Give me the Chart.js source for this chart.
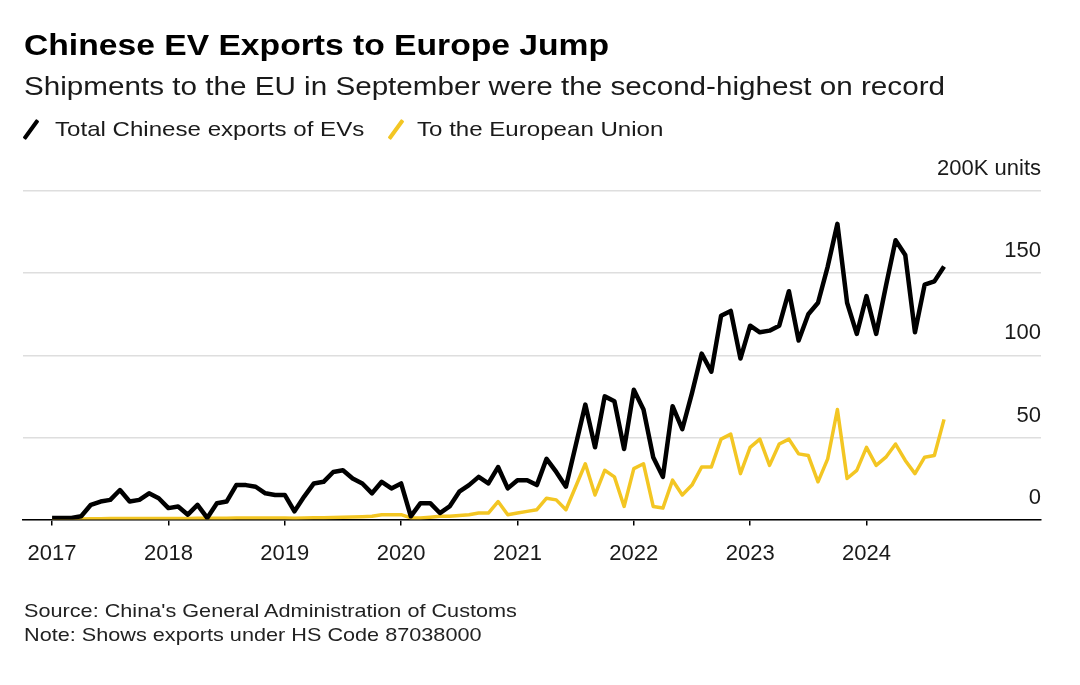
<!DOCTYPE html>
<html>
<head>
<meta charset="utf-8">
<script src="https://cdn.jsdelivr.net/npm/chart.js@4"></script>
<style>
  body { margin: 0; background: #fff; width: 1080px; height: 685px; overflow: hidden; position: relative; font-family: "Liberation Sans", Arial, sans-serif; }
  canvas { position: absolute; left: 0; top: 0; }
  .txt { position: absolute; left: 24px; line-height: 1; white-space: nowrap; transform-origin: left top; color: #111; }
  #title { top: 31px; font-size: 29px; font-weight: bold; color: #000; transform: scaleX(1.16); }
  #subtitle { top: 73px; font-size: 26px; color: #1a1a1a; transform: scaleX(1.14); }
  #legend { top: 118px; font-size: 21px; color: #1a1a1a; }
  #legend span.item { position: absolute; top: 0; white-space: nowrap; transform-origin: left top; transform: scaleX(1.147); }
  .slash { position: absolute; top: 0px; width: 4px; height: 23px; transform: rotate(36deg); border-radius: 1px; }
  .foot { font-size: 19px; color: #222; transform: scaleX(1.14); }
</style>
</head>
<body>
<canvas id="myChart" width="1080" height="685"></canvas>

<div class="txt" id="title">Chinese EV Exports to Europe Jump</div>
<div class="txt" id="subtitle">Shipments to the EU in September were the second-highest on record</div>
<div class="txt" id="legend">
  <div class="slash" style="left:5px; background:#000;"></div>
  <span class="item" style="left:31px;">Total Chinese exports of EVs</span>
  <div class="slash" style="left:370px; background:#f3c623;"></div>
  <span class="item" style="left:393px;">To the European Union</span>
</div>
<div class="txt foot" style="top:601px;">Source: China's General Administration of Customs</div>
<div class="txt foot" style="top:625px;">Note: Shows exports under HS Code 87038000</div>

<script>
// monthly values, thousand units; index 0 = Jan 2017, last = Sep 2024
let year_labels = ['2017', '2018', '2019', '2020', '2021', '2022', '2023', '2024'];

let total_exports = [
  1, 1, 1, 2, 9, 11, 12, 18, 11, 12, 16, 13,          // 2017
  7, 8, 3, 9, 1, 10, 11, 21, 21, 20, 16, 15,          // 2018
  15, 5, 14, 22, 23, 29, 30, 25, 22, 16, 23, 19,      // 2019
  22, 2, 10, 10, 4, 8, 17, 21, 26, 22, 32, 19,        // 2020
  24, 24, 21, 37, 29, 20, 45, 70, 44, 75, 72, 43,     // 2021
  79, 67, 38, 26, 69, 55, 77, 101, 90, 124, 127, 98,  // 2022
  118, 114, 115, 118, 139, 109, 125, 132, 154, 180, 132, 113, // 2023
  136, 113, 142, 170, 161, 114, 143, 145, 154         // 2024
];

let eu_exports = [
  0.2, 0.3, 0.3, 0.4, 0.5, 0.5, 0.6, 0.6, 0.6, 0.6, 0.7, 0.7,   // 2017
  0.7, 0.6, 0.7, 0.8, 0.8, 0.8, 0.8, 0.9, 0.9, 0.9, 1, 1,       // 2018
  1, 0.8, 1, 1.2, 1.2, 1.3, 1.5, 1.6, 1.8, 2, 3, 3,             // 2019
  3, 1, 1, 1.5, 2, 2, 2.5, 3, 4, 4, 11, 3,                      // 2020
  4, 5, 6, 13, 12, 6, 20, 34, 15, 30, 26, 8,                    // 2021
  31, 34, 8, 7, 24, 15, 21, 32, 32, 49, 52, 28,                 // 2022
  44, 49, 33, 46, 49, 40, 39, 23, 37, 67, 25, 30,               // 2023
  44, 33, 38, 46, 36, 28, 38, 39, 61                            // 2024
];

let y_ticks = [0, 50, 100, 150, 200];

// turn a list of monthly values into {x, y} points on the month index scale
function to_points(values){
  return values.map((v, i) => ({x: i, y: v}));
}

let ctx = document.getElementById('myChart').getContext('2d');
let chart = new Chart(ctx, {
  type: 'line',
  data: {
    datasets: [{
      label: 'Total Chinese exports of EVs',
      data: to_points(total_exports),
      borderColor: '#000',
      borderWidth: 4.5,
      borderJoinStyle: 'round',
      pointRadius: 0,
      tension: 0
    }, {
      label: 'To the European Union',
      data: to_points(eu_exports),
      borderColor: '#f3c623',
      borderWidth: 3.5,
      borderJoinStyle: 'round',
      pointRadius: 0,
      tension: 0
    }]
  },
  options: {
    responsive: false,
    animation: false,
    devicePixelRatio: 1,
    layout: { padding: { top: 191, left: 23, right: 39, bottom: 103 } },
    plugins: { legend: { display: false }, tooltip: { enabled: false } },
    scales: {
      x: {
        type: 'linear',
        min: -3,
        max: 102,
        afterBuildTicks: (scale) => {
          scale.ticks = year_labels.map((y, i) => ({ value: i * 12 }));
        },
        grid: { drawOnChartArea: false, drawTicks: true, tickLength: 6, color: '#000', lineWidth: 1.5 },
        border: { display: true, color: '#000', width: 1.5 },
        ticks: {
          autoSkip: false,
          maxRotation: 0,
          padding: 15,
          color: '#1a1a1a',
          font: { family: 'Liberation Sans', size: 22 },
          callback: (value) => year_labels[Math.round(value / 12)]
        }
      },
      y: {
        position: 'right',
        min: 0,
        max: 200,
        afterBuildTicks: (scale) => {
          scale.ticks = y_ticks.map(v => ({ value: v }));
        },
        grid: { color: '#dedede', lineWidth: 1.5, drawTicks: false },
        border: { display: false },
        ticks: {
          mirror: true,
          padding: 0,
          labelOffset: -22,
          color: '#1a1a1a',
          font: { family: 'Liberation Sans', size: 22 },
          callback: (value) => value === 200 ? '200K units' : value
        }
      }
    }
  }
});
</script>
</body>
</html>
